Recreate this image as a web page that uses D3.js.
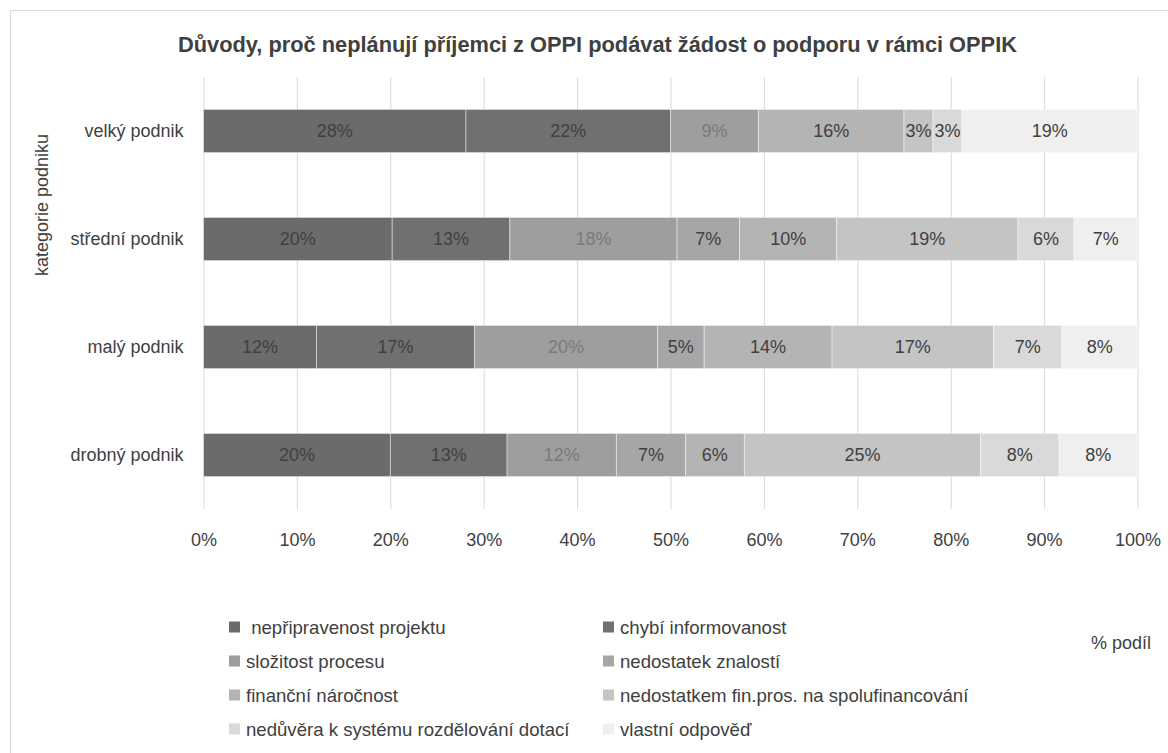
<!DOCTYPE html>
<html>
<head>
<meta charset="utf-8">
<script src="https://cdn.jsdelivr.net/npm/d3@7"></script>
<style>
  html, body { margin: 0; padding: 0; background: #ffffff; }
  svg { display: block; font-family: "Liberation Sans", Arial, sans-serif; }
</style>
</head>
<body>
<svg id="chart" width="1168" height="753"></svg>
<script>
// ---- data ----
const categories = ["velký podnik", "střední podnik", "malý podnik", "drobný podnik"];
const seriesNames = [
  " nepřipravenost projektu",
  "chybí informovanost",
  "složitost procesu",
  "nedostatek znalostí",
  "finanční náročnost",
  "nedostatkem fin.pros. na spolufinancování",
  "nedůvěra k systému rozdělování dotací",
  "vlastní odpověď"
];
const nepripravenost   = [28.1, 20.2, 12.1, 20.0];
const chybiInfo        = [21.9, 12.6, 16.9, 12.5];
const slozitost        = [9.4, 17.9, 19.6, 11.7];
const nedostatekZnal   = [0.0, 6.7, 5.0, 7.4];
const financni         = [15.6, 10.4, 13.7, 6.3];
const nedostatkemFin   = [3.1, 19.4, 17.3, 25.3];
const neduvera         = [3.1, 6.0, 7.3, 8.4];
const vlastni          = [18.8, 6.8, 8.1, 8.4];
const xTicks = [0, 10, 20, 30, 40, 50, 60, 70, 80, 90, 100];
const titleText = "Důvody, proč neplánují příjemci z OPPI podávat žádost o podporu v rámci OPPIK";
const yTitle = "kategorie podniku";
const xTitle = "% podíl";

// ---- styles ----
const colors = ["#6b6b6b", "#707070", "#9e9e9e", "#a6a6a6", "#b4b4b4", "#c4c4c4", "#d9d9d9", "#efefef"];
const labelColors = ["#404040", "#404040", "#7a7a7a", "#404040", "#404040", "#404040", "#404040", "#404040"];
const textColor = "#404040";

const seriesValues = [nepripravenost, chybiInfo, slozitost, nedostatekZnal, financni, nedostatkemFin, neduvera, vlastni];

const rows = categories.map((c, i) => {
  const r = { category: c };
  seriesNames.forEach((s, j) => { r[s] = seriesValues[j][i]; });
  return r;
});
const stacked = d3.stack().keys(seriesNames)(rows);

const svg = d3.select("#chart");
const margin = { left: 203.5, right: 1168 - 1137.5, top: 77, bottom: 753 - 509 };
const W = 1168, H = 753;

// outer chart border
svg.append("rect")
  .attr("x", 10.5).attr("y", 10.5)
  .attr("width", W + 20).attr("height", H + 20)
  .attr("fill", "#ffffff").attr("stroke", "#d9d9d9").attr("stroke-width", 1);

const x = d3.scaleLinear().domain([0, 100]).range([margin.left, W - margin.right]);
const y = d3.scaleBand().domain(categories).range([margin.top, H - margin.bottom]).paddingInner(0.6).paddingOuter(0.3);

// gridlines
svg.append("g")
  .attr("transform", `translate(0,${H - margin.bottom})`)
  .call(d3.axisBottom(x).tickValues(xTicks).tickSize(-(H - margin.bottom - margin.top)).tickFormat(""))
  .call(g => g.select(".domain").remove())
  .call(g => g.selectAll("line").attr("stroke", "#d9d9d9").attr("stroke-width", 1));

// bars
const layer = svg.append("g").selectAll("g").data(stacked).join("g")
  .attr("fill", (d, i) => colors[i]);
layer.selectAll("rect").data(d => d.filter(p => p[1] - p[0] > 0)).join("rect")
  .attr("x", d => x(d[0]))
  .attr("y", d => y(d.data.category))
  .attr("width", d => x(d[1]) - x(d[0]))
  .attr("height", y.bandwidth())
  .attr("stroke", "#ffffff").attr("stroke-opacity", 0.6).attr("stroke-width", 0.75);

// data labels
svg.append("g").selectAll("g").data(stacked).join("g")
  .attr("fill", (d, i) => labelColors[i])
  .selectAll("text").data(d => d.filter(p => p[1] - p[0] > 0)).join("text")
  .attr("x", d => (x(d[0]) + x(d[1])) / 2)
  .attr("y", d => y(d.data.category) + y.bandwidth() / 2)
  .attr("dy", "0.35em")
  .attr("text-anchor", "middle")
  .attr("font-size", 18)
  .text(d => Math.round(d[1] - d[0]) + "%");

// y axis
svg.append("g")
  .attr("transform", `translate(${margin.left},0)`)
  .call(d3.axisLeft(y).tickSize(0).tickPadding(20))
  .call(g => g.select(".domain").remove())
  .call(g => g.selectAll("text").attr("fill", textColor).attr("font-size", 18).attr("font-family", null));

// x axis
svg.append("g")
  .attr("transform", `translate(0,${H - margin.bottom})`)
  .call(d3.axisBottom(x).tickValues(xTicks).tickSize(0).tickPadding(24).tickFormat(d => d + "%"))
  .call(g => g.select(".domain").remove())
  .call(g => g.selectAll("text").attr("fill", textColor).attr("font-size", 18).attr("font-family", null));

// title
svg.append("text")
  .attr("x", 597.5).attr("y", 52)
  .attr("text-anchor", "middle")
  .attr("font-weight", "bold")
  .attr("font-size", 21.8)
  .attr("fill", textColor)
  .text(titleText);

// y title
svg.append("text")
  .attr("transform", "translate(48,205) rotate(-90)")
  .attr("text-anchor", "middle")
  .attr("font-size", 18)
  .attr("fill", textColor)
  .text(yTitle);

// x title
svg.append("text")
  .attr("x", 1121).attr("y", 649)
  .attr("text-anchor", "middle")
  .attr("font-size", 18)
  .attr("fill", textColor)
  .text(xTitle);

// legend
const legendCols = [229, 603];
const legendRows = [627, 661, 695, 729];
const leg = svg.append("g").selectAll("g").data(seriesNames).join("g")
  .attr("transform", (d, i) => `translate(${legendCols[i % 2]},${legendRows[Math.floor(i / 2)]})`);
leg.append("rect").attr("x", 0).attr("y", -5.5).attr("width", 11).attr("height", 11)
  .attr("fill", (d, i) => colors[i]);
leg.append("text").attr("x", 17).attr("dy", "0.35em")
  .attr("font-size", 18.6).attr("fill", textColor)
  .attr("xml:space", "preserve").style("white-space", "pre")
  .text(d => d);
</script>
</body>
</html>
